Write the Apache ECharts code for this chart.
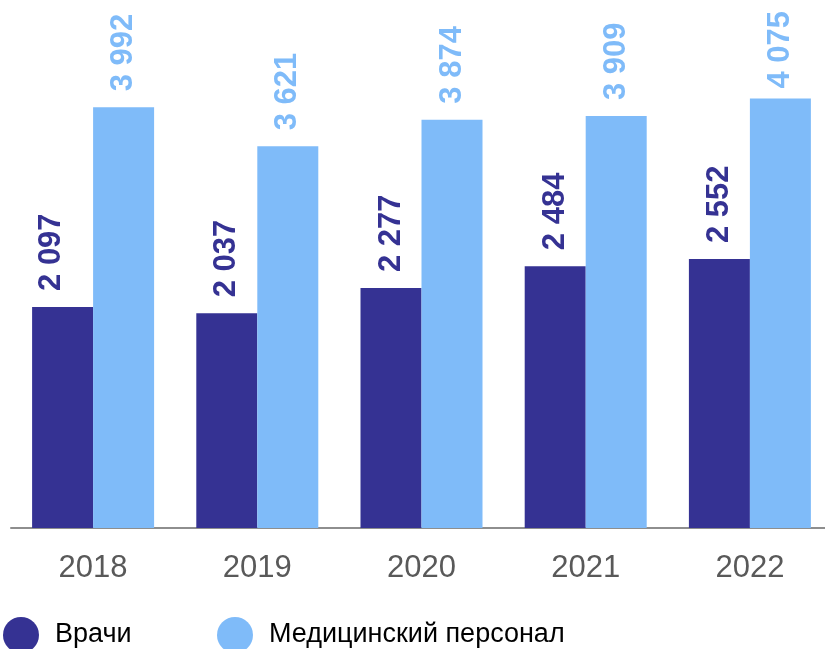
<!DOCTYPE html>
<html>
<head>
<meta charset="utf-8">
<script src="https://cdn.jsdelivr.net/npm/echarts@6/dist/echarts.min.js"></script>
<style>
html,body{margin:0;padding:0;background:#fff;}
#chart{width:825px;height:649px;}
</style>
</head>
<body>
<div id="chart"></div>
<script>
const categories = ['2018', '2019', '2020', '2021', '2022'];
const doctors = [2097, 2037, 2277, 2484, 2552];
const medStaff = [3992, 3621, 3874, 3909, 4075];
const seriesNames = ['Врачи', 'Медицинский персонал'];

const DARK = '#353293';
const LIGHT = '#7fbbf9';
const FONT = 'Arial, "Liberation Sans", sans-serif';

function fmt(v) {
  return String(v).replace(/\B(?=(\d{3})+(?!\d))/g, ' ');
}

function labelCfg(color) {
  return {
    show: true,
    position: 'top',
    distance: 16,
    rotate: 90,
    align: 'left',
    verticalAlign: 'middle',
    color: color,
    fontSize: 31,
    fontWeight: 'bold',
    fontFamily: FONT,
    formatter: p => fmt(p.value)
  };
}

const legendText = {fontSize: 27, color: '#000', fontFamily: FONT, padding: [0, 0, 0, 11]};

const chart = echarts.init(document.getElementById('chart'), null, {renderer: 'canvas'});
chart.setOption({
  animation: false,
  backgroundColor: '#fff',
  grid: {left: 11, width: 821, top: 1, bottom: 121, containLabel: false, outerBoundsMode: 'none'},
  legend: [
    {
      data: [seriesNames[0]], left: 3, top: 617, padding: 0, itemWidth: 36, itemHeight: 36, icon: 'circle',
      textStyle: legendText
    },
    {
      data: [seriesNames[1]], left: 217, top: 617, padding: 0, itemWidth: 36, itemHeight: 36, icon: 'circle',
      textStyle: legendText
    }
  ],
  xAxis: {
    type: 'category',
    data: categories,
    axisLine: {show: true, lineStyle: {color: '#8e8e8e', width: 2}},
    axisTick: {show: false},
    axisLabel: {fontSize: 31, color: '#595959', fontFamily: FONT, margin: 25}
  },
  yAxis: {
    type: 'value', min: 0, max: 5000, show: false,
    splitLine: {show: false}
  },
  series: [
    {
      name: seriesNames[0], type: 'bar',
      data: doctors.map((v, i) => i === 0 ? {value: v, label: {offset: [0, -11]}} : v),
      itemStyle: {color: DARK},
      barGap: '0%', barCategoryGap: '25.7%',
      label: labelCfg(DARK)
    },
    {
      name: seriesNames[1], type: 'bar',
      data: medStaff.map((v, i) => i === medStaff.length - 1 ? {value: v, label: {distance: 10}} : v),
      itemStyle: {color: LIGHT},
      barGap: '0%', barCategoryGap: '25.7%',
      label: labelCfg(LIGHT)
    }
  ]
});
</script>
</body>
</html>
